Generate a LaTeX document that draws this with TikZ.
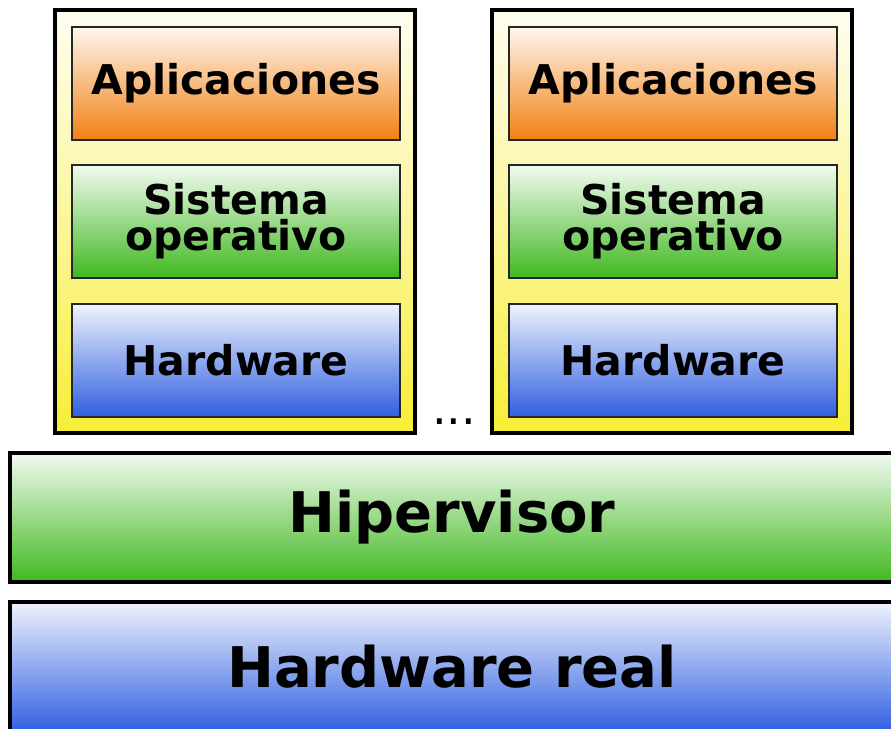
\documentclass[tikz,border=0pt]{standalone}
\usepackage{fontspec}
\setmainfont{DejaVu Sans}
\definecolor{ylwT}{HTML}{FFFDF0}
\definecolor{ylwB}{HTML}{F7EE35}
\definecolor{orgT}{HTML}{FFF6EE}
\definecolor{orgB}{HTML}{F08012}
\definecolor{grnT}{HTML}{F2FAF0}
\definecolor{grnB}{HTML}{40B820}
\definecolor{bluT}{HTML}{F0F3FC}
\definecolor{bluB}{HTML}{3060E2}
\tikzset{
  vmbox/.style={draw=black, line width=3.5pt, top color=ylwT, bottom color=ylwB, middle color=ylwB!45!ylwT, minimum width=360pt, minimum height=423pt, inner sep=0pt},
  layer/.style={draw=black!85, line width=2pt, minimum width=328pt, minimum height=113pt, inner sep=0pt, align=center,
     font=\fontsize{41}{36}\selectfont\bfseries},
  appbox/.style={layer, top color=orgT, bottom color=orgB},
  osbox/.style={layer, top color=grnT, bottom color=grnB},
  hwbox/.style={layer, top color=bluT, bottom color=bluB},
  bigbox/.style={draw=black, line width=3.5pt, minimum width=884pt, minimum height=129pt, inner sep=0pt,
     font=\fontsize{56}{60}\selectfont\bfseries},
}
\begin{document}
\begin{tikzpicture}[x=1pt,y=-1pt]
\useasboundingbox (0,0) rectangle (891,728);
\begin{scope}
\clip (0,0) rectangle (891,728);
% left VM
\node[vmbox] (vm1) at (235,221.5) {};
\node[appbox] (app1) at (236,83.5) {Aplicaciones};
\node[osbox] (os1) at (236,221.5) {Sistema\\operativo};
\node[hwbox] (hw1) at (236,360) {Hardware};
% right VM
\node[vmbox] (vm2) at (672,221.5) {};
\node[appbox] (app2) at (673,83.5) {Aplicaciones};
\node[osbox] (os2) at (673,221.5) {Sistema\\operativo};
\node[hwbox] (hw2) at (673,360) {Hardware};
% dots
\node[font=\fontsize{46}{46}\selectfont, anchor=base, inner sep=0pt] (dots) at (454,424) {...};
% hypervisor and hardware
\node[bigbox, top color=grnT, bottom color=grnB] (hyp) at (452,517.5) {Hipervisor};
\node[bigbox, top color=bluT, bottom color=bluB, minimum height=130pt] (real) at (452,667) {Hardware real};
\end{scope}
\end{tikzpicture}
\end{document}
